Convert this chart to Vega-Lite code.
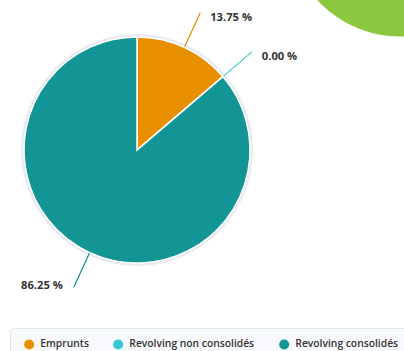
{
  "$schema": "https://vega.github.io/schema/vega-lite/v6.json",
  "width": 274,
  "height": 300,
  "autosize": {"type": "none"},
  "padding": {"left": 0, "top": 0, "right": 130, "bottom": 51},
  "background": "white",
  "config": {"view": {"stroke": null}, "font": "Open Sans"},
  "data": {"values": [
    {"category": "Emprunts", "value": 13.75, "label": "13.75 %"},
    {"category": "Revolving non consolidés", "value": 0, "label": "0.00 %"},
    {"category": "Revolving consolidés", "value": 86.25, "label": "86.25 %"}
  ]},
  "transform": [
    {"stack": "value", "groupby": [], "as": ["t0", "t1"]},
    {"calculate": "(datum.t0 + datum.t1) / 2", "as": "mid"}
  ],
  "layer": [
    {
      "data": {"values": [{"shape": "decor", "cx": 400, "cy": -75}]},
      "mark": {"type": "point", "shape": "circle", "filled": true, "size": 49818, "color": "#8dc63f", "opacity": 1, "clip": false},
      "encoding": {
        "x": {"field": "cx", "type": "quantitative", "scale": {"domain": [0, 274], "nice": false, "zero": false}, "axis": null},
        "y": {"field": "cy", "type": "quantitative", "scale": {"domain": [0, 300], "nice": false, "zero": false, "reverse": true}, "axis": null}
      }
    },
    {
      "mark": {"type": "arc", "radius": 115.5, "color": "#e8ebf1", "stroke": "#e8ebf1", "strokeWidth": 1},
      "encoding": {
        "theta": {"field": "t0", "type": "quantitative", "scale": {"domain": [0, 100]}},
        "theta2": {"field": "t1"}
      }
    },
    {
      "mark": {"type": "arc", "radius": 113, "stroke": "white", "strokeWidth": 1.5},
      "encoding": {
        "theta": {"field": "t0", "type": "quantitative", "scale": {"domain": [0, 100]}},
        "theta2": {"field": "t1"},
        "color": {
          "field": "category",
          "type": "nominal",
          "scale": {"domain": ["Emprunts", "Revolving non consolidés", "Revolving consolidés"], "range": ["#e88f00", "#35c9cf", "#139596"]},
          "legend": {
            "title": null,
            "orient": "none",
            "legendX": 10,
            "legendY": 328,
            "direction": "horizontal",
            "symbolType": "circle",
            "symbolSize": 100,
            "symbolStrokeWidth": 0,
            "labelFont": "Open Sans",
            "labelFontSize": 10.3,
            "labelFontWeight": 600,
            "labelColor": "#333333",
            "padding": 11,
            "fillColor": "#f8f9fc",
            "strokeColor": "#e2e6ee",
            "cornerRadius": 3,
            "symbolOffset": 3,
            "labelOffset": 6,
            "columnPadding": 21,
            "labelLimit": 0
          }
        }
      }
    },
    {
      "mark": {"type": "arc", "radius": 151, "radius2": 114, "filled": false, "strokeWidth": 1},
      "encoding": {
        "theta": {"field": "mid", "type": "quantitative", "scale": {"domain": [0, 100]}},
        "theta2": {"field": "mid"},
        "stroke": {
          "field": "category",
          "type": "nominal",
          "scale": {"domain": ["Emprunts", "Revolving non consolidés", "Revolving consolidés"], "range": ["#e88f00", "#35c9cf", "#139596"]},
          "legend": null
        }
      }
    },
    {
      "transform": [{"filter": "datum.mid < 50"}],
      "mark": {"type": "text", "radius": 151, "align": "left", "baseline": "middle", "dx": 10, "dy": 5, "font": "Open Sans", "fontSize": 11.2, "fontWeight": "bold", "color": "#333333"},
      "encoding": {
        "theta": {"field": "mid", "type": "quantitative", "stack": null, "scale": {"domain": [0, 100]}},
        "text": {"field": "label"}
      }
    },
    {
      "transform": [{"filter": "datum.mid >= 50"}],
      "mark": {"type": "text", "radius": 151, "align": "right", "baseline": "middle", "dx": -11, "dy": -1, "font": "Open Sans", "fontSize": 11.2, "fontWeight": "bold", "color": "#333333"},
      "encoding": {
        "theta": {"field": "mid", "type": "quantitative", "stack": null, "scale": {"domain": [0, 100]}},
        "text": {"field": "label"}
      }
    }
  ]
}
